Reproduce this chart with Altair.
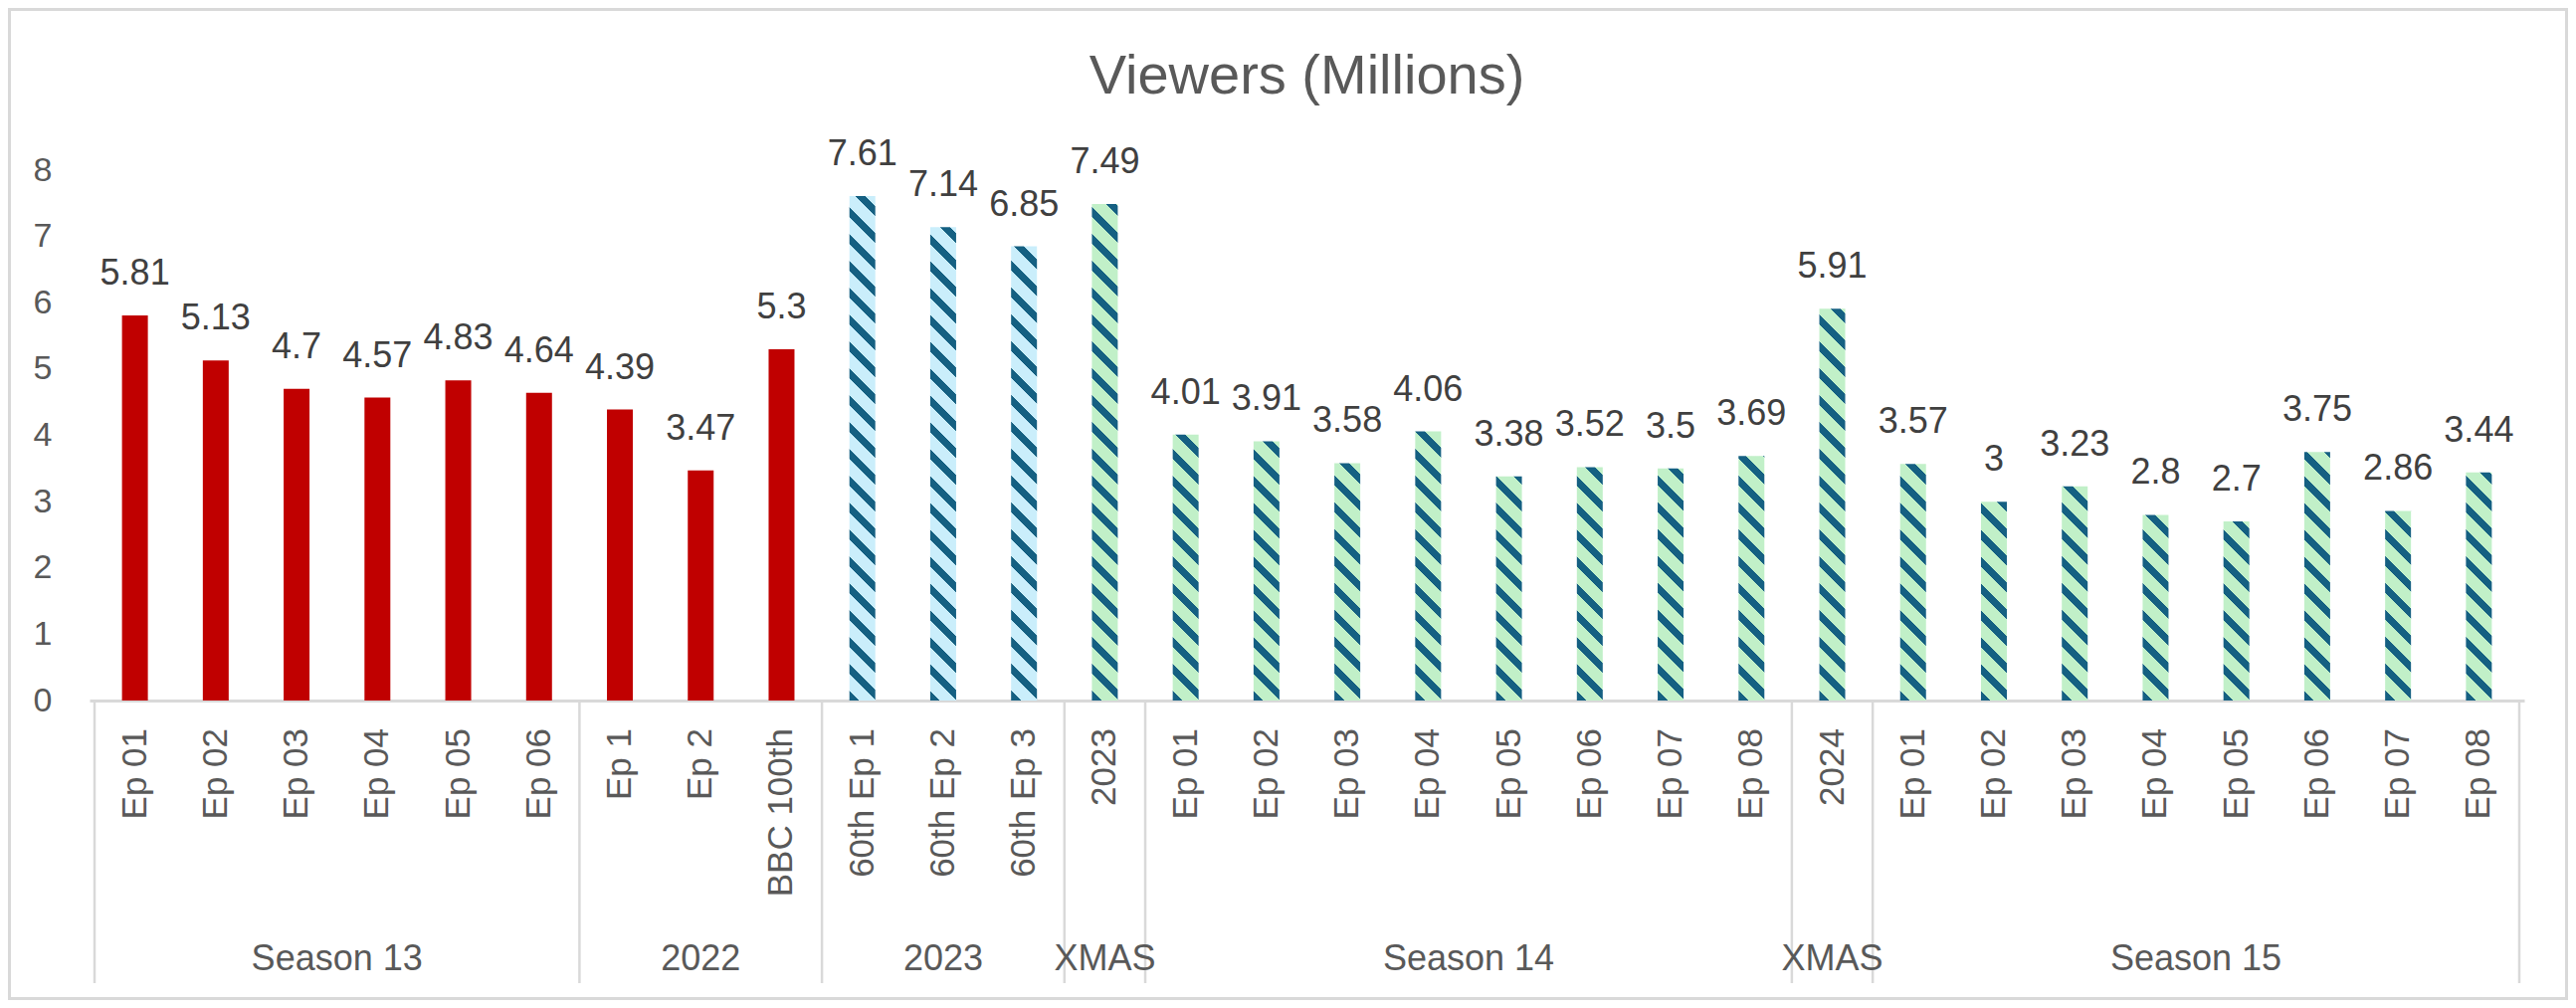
import altair as alt
import pandas as pd

# ---------------- data ----------------
episodes = ["Ep 01", "Ep 02", "Ep 03", "Ep 04", "Ep 05", "Ep 06",
            "Ep 1", "Ep 2", "BBC 100th",
            "60th Ep 1", "60th Ep 2", "60th Ep 3",
            "2023",
            "Ep 01", "Ep 02", "Ep 03", "Ep 04", "Ep 05", "Ep 06", "Ep 07", "Ep 08",
            "2024",
            "Ep 01", "Ep 02", "Ep 03", "Ep 04", "Ep 05", "Ep 06", "Ep 07", "Ep 08"]
viewers = [5.81, 5.13, 4.7, 4.57, 4.83, 4.64,
           4.39, 3.47, 5.3,
           7.61, 7.14, 6.85,
           7.49,
           4.01, 3.91, 3.58, 4.06, 3.38, 3.52, 3.5, 3.69,
           5.91,
           3.57, 3, 3.23, 2.8, 2.7, 3.75, 2.86, 3.44]
group_names = ["Season 13", "2022", "2023", "XMAS", "Season 14", "XMAS", "Season 15"]
group_sizes = [6, 3, 3, 1, 8, 1, 8]
bar_styles = ["red"] * 9 + ["blue"] * 3 + ["green"] * 18

# ---------------- layout / style ----------------
FONT = "Liberation Sans"
W, H = 2447, 533
PAD = {"left": 82, "top": 163, "right": 44, "bottom": 301}
YMAX = 8
BAR_W = 26
GRAY = "#D9D9D9"
TXT = "#595959"
LBL = "#404040"
RED = "#C00000"
DARK = "#156082"
LIGHT = {"blue": "#CAEEFB", "green": "#C1F0C8"}
PERIOD, DARK_W = 27.0, 10.0

n = len(episodes)
df = pd.DataFrame({
    "i": list(range(n)),
    "x": [k + 0.5 for k in range(n)],
    "ep": episodes,
    "v": viewers,
    "lab": [f"{v:g}" for v in viewers],
    "style": bar_styles,
})

starts = []
s = 0
for g in group_sizes:
    starts.append(s)
    s += g
grp = pd.DataFrame({"name": group_names,
                    "c": [st + g / 2 for st, g in zip(starts, group_sizes)]})
bnd = pd.DataFrame({"b": starts + [n]})

xscale = alt.Scale(domain=[0, n], nice=False, zero=False)
yscale = alt.Scale(domain=[0, YMAX], nice=False, zero=True)
xaxis = alt.Axis(labels=False, ticks=False, grid=False, domainColor=GRAY,
                 domainWidth=3, title=None)
yaxis = alt.Axis(values=list(range(YMAX + 1)), grid=False, domain=False, ticks=False,
                 labelPadding=38, labelFontSize=34, labelColor=TXT, labelFont=FONT,
                 title=None)


def X(f):
    return alt.X(f, type="quantitative", scale=xscale, axis=xaxis)


def Y(f):
    return alt.Y(f, type="quantitative", scale=yscale, axis=yaxis)


def stripe_gradient(v, light):
    """Diagonal '\\' stripes expressed as a hard-stop linear gradient in the
    bar's bounding box (SVG objectBoundingBox units)."""
    h = v * H / YMAX
    w = BAR_W
    L = h + w
    lam = L / (w * w + h * h)
    segs = []
    u = 0.0
    while u < L:
        segs.append((u, min(u + DARK_W, L), DARK))
        if u + DARK_W < L:
            segs.append((u + DARK_W, min(u + PERIOD, L), light))
        u += PERIOD
    stops = []
    for u0, u1, c in reversed(segs):
        t0 = round(1 - u1 / L, 6)
        t1 = round(1 - u0 / L, 6)
        stops.append(alt.GradientStop(offset=max(t0, 0), color=c))
        stops.append(alt.GradientStop(offset=min(t1, 1), color=c))
    return alt.LinearGradient(gradient="linear", stops=stops,
                              x1=1, y1=0, x2=1 - lam * w, y2=lam * h)


layers = []

# outer chart-area border
layers.append(
    alt.Chart(pd.DataFrame({"k": [0]})).mark_rect(
        fillOpacity=0, stroke=GRAY, strokeWidth=3
    ).encode(
        x=alt.value(-PAD["left"] + 1.5), x2=alt.value(W + PAD["right"] - 1.5),
        y=alt.value(-PAD["top"] + 1.5), y2=alt.value(H + PAD["bottom"] - 1.5)
    )
)

# solid red bars
layers.append(
    alt.Chart(df).transform_filter(alt.datum.style == "red")
    .mark_bar(size=BAR_W, color=RED)
    .encode(x=X("x"), y=Y("v"))
)

# patterned bars, one layer each (gradient depends on bar height)
for k in range(n):
    st = bar_styles[k]
    if st == "red":
        continue
    layers.append(
        alt.Chart(df).transform_filter(alt.datum.i == k)
        .mark_bar(size=BAR_W, fill=stripe_gradient(viewers[k], LIGHT[st]))
        .encode(x=X("x"), y=Y("v"))
    )

# data labels
layers.append(
    alt.Chart(df).mark_text(font=FONT, fontSize=36, color=LBL, baseline="alphabetic",
                            align="center", dy=-31)
    .encode(x=X("x"), y=Y("v"), text="lab:N")
)

# episode (level 1) labels
layers.append(
    alt.Chart(df).mark_text(font=FONT, fontSize=35, color=TXT, angle=270,
                            align="right", baseline="middle")
    .encode(x=X("x"), y=alt.value(H + 28), text="ep:N")
)

# group separators
layers.append(
    alt.Chart(bnd).mark_rule(color=GRAY, strokeWidth=2.5)
    .encode(x=X("b"), y=alt.value(H), y2=alt.value(H + 284))
)

# group (level 2) labels
layers.append(
    alt.Chart(grp).mark_text(font=FONT, fontSize=36, color=TXT, baseline="alphabetic",
                             align="center")
    .encode(x=X("c"), y=alt.value(H + 271), text="name:N")
)

chart = alt.layer(*layers).properties(
    width=W, height=H,
    autosize=alt.AutoSizeParams(type="none"),
    padding=PAD,
    background="white",
    title=alt.TitleParams("Viewers (Millions)", font=FONT, fontSize=56, color=TXT,
                          fontWeight="normal", anchor="middle", baseline="alphabetic",
                          offset=-142),
).configure_view(stroke=None)

chart.save("out.html", embed_options={"renderer": "svg", "actions": False})
